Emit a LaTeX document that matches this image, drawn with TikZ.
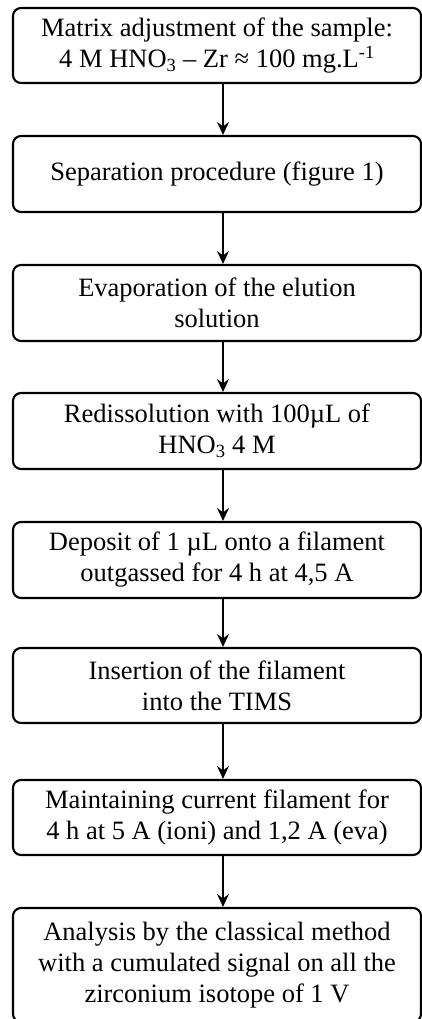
\documentclass[tikz,border=0pt]{standalone}
\usepackage{fontspec}
\setmainfont{Liberation Serif}
\usetikzlibrary{arrows.meta}
\begin{document}
\begin{tikzpicture}[x=1pt,y=-1pt,
  stepbox/.style={draw, line width=2.1pt, rounded corners=8pt, minimum width=408pt,
    minimum height=75pt, inner sep=0pt, align=center,
    font=\fontsize{26.5}{31}\selectfont},
  arr/.style={line width=2pt, -{Stealth[length=13pt,width=12pt,inset=4.5pt]}}]
\useasboundingbox (0,0) rectangle (422,1019);
\coordinate (ax) at (223,0);
\node[stepbox] (b1) at (217,45.5) {Matrix adjustment of the sample:\\4 M HNO\textsubscript{3} – Zr ≈ 100 mg.L\textsuperscript{-1}};
\node[stepbox, minimum height=76pt] (b2) at (217,174) {Separation procedure (figure 1)};
\node[stepbox, minimum height=76pt] (b3) at (217,303) {Evaporation of the elution\\solution};
\node[stepbox, minimum height=76pt] (b4) at (217,431) {Redissolution with 100µL of\\HNO\textsubscript{3} 4 M};
\node[stepbox, minimum height=76pt] (b5) at (217,560) {Deposit of 1 µL onto a filament\\outgassed for 4 h at 4,5 A};
\node[stepbox] (b6) at (217,685.5) {Insertion of the filament\\into the TIMS};
\node[stepbox] (b7) at (217,817.5) {Maintaining current filament for\\4 h at 5 A (ioni) and 1,2 A (eva)};
\node[stepbox, minimum height=114pt] (b8) at (217,965) {Analysis by the classical method\\with a cumulated signal on all the\\zirconium isotope of 1 V};
\foreach \a/\b in {b1/b2,b2/b3,b3/b4,b4/b5,b5/b6,b6/b7,b7/b8}
  \draw[arr] (\a.south -| ax) -- (\b.north -| ax);
\end{tikzpicture}
\end{document}
